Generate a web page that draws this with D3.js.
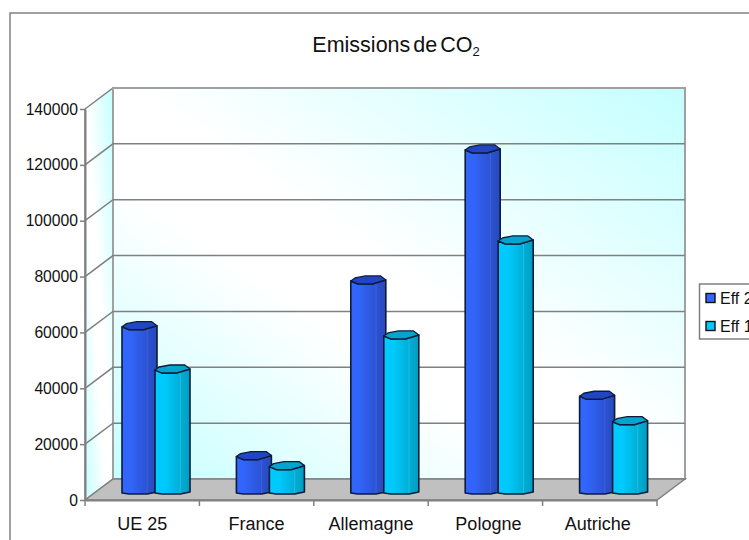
<!DOCTYPE html>
<html>
<head>
<meta charset="utf-8">
<script src="https://d3js.org/d3.v7.min.js"></script>
<style>
  html, body { margin: 0; padding: 0; background: #fff; overflow: hidden; }
  svg { display: block; }
  text { font-family: "Liberation Sans", Arial, sans-serif; fill: #111; }
  .domain { stroke: #808080; stroke-width: 2px; }
  .tick line { stroke: #808080; stroke-width: 1.5px; }
</style>
</head>
<body>
<div id="chart"></div>
<script>
// values
const categories = ['UE 25', 'France', 'Allemagne', 'Pologne', 'Autriche'];
const seriesNames = ['Eff 2', 'Eff 1'];
const eff2 = [59900, 13400, 76300, 123200, 35000];
const eff1 = [44400, 9800, 56600, 90600, 25900];
const yTicks = [0, 20000, 40000, 60000, 80000, 100000, 120000, 140000];

const FRAME_WIDTH = 749;
const FRAME_HEIGHT = 540;
const DEPTH_X = 28;
const DEPTH_Y = 21;
const BAR_W = 35;

const svg = d3.select('#chart').append('svg')
  .attr('width', FRAME_WIDTH)
  .attr('height', FRAME_HEIGHT);

const colors = {
  'Eff 2': {front: 'blue2', top: '#2146c4', divider: '#3f62d8', key: '#3366ff'},
  'Eff 1': {front: 'cyan1', top: '#00a5cf', divider: '#26bcdc', key: '#00ccff'}
};

// gradients
const defs = svg.append('defs');
const wall = defs.append('linearGradient').attr('id', 'wall')
  .attr('x1', 1).attr('y1', 0).attr('x2', 0).attr('y2', 1);
wall.append('stop').attr('offset', '0%').attr('stop-color', '#c4ffff');
wall.append('stop').attr('offset', '48%').attr('stop-color', '#ffffff');
wall.append('stop').attr('offset', '62%').attr('stop-color', '#ffffff');
wall.append('stop').attr('offset', '100%').attr('stop-color', '#c4ffff');

const blue = defs.append('linearGradient').attr('id', 'blue2');
blue.append('stop').attr('offset', '0%').attr('stop-color', '#3366ff');
blue.append('stop').attr('offset', '25%').attr('stop-color', '#3164f8');
blue.append('stop').attr('offset', '100%').attr('stop-color', '#2848bc');
const cyan = defs.append('linearGradient').attr('id', 'cyan1');
cyan.append('stop').attr('offset', '0%').attr('stop-color', '#00ccff');
cyan.append('stop').attr('offset', '30%').attr('stop-color', '#00c8fa');
cyan.append('stop').attr('offset', '100%').attr('stop-color', '#009dc0');

// outer chart border, runs off the page on the right and bottom
svg.append('rect')
  .attr('x', 10).attr('y', 13)
  .attr('width', 800).attr('height', 600)
  .attr('fill', '#fff')
  .attr('stroke', '#808080')
  .attr('stroke-width', 1.5);

const yscale = d3.scaleLinear().domain([0, 140000]).range([500, 109]);
const xscale = d3.scaleBand().domain(categories).range([85, 657]);
const seriesScale = d3.scaleBand().domain(seriesNames).range([0, 68]).paddingInner(0);

const x0 = xscale.range()[0];
const x1 = xscale.range()[1];
const yBase = yscale(0);
const yTop = yscale(140000);

const poly = d3.line();

// side wall
svg.append('path')
  .attr('d', poly([[x0, yBase], [x0, yTop], [x0 + DEPTH_X, yTop - DEPTH_Y], [x0 + DEPTH_X, yBase - DEPTH_Y]]) + 'Z')
  .attr('fill', 'url(#wall)')
  .attr('stroke', '#808080').attr('stroke-width', 1.5);

// back wall
svg.append('rect')
  .attr('x', x0 + DEPTH_X).attr('y', yTop - DEPTH_Y)
  .attr('width', x1 - x0).attr('height', yBase - yTop)
  .attr('fill', 'url(#wall)')
  .attr('stroke', '#a0a0a0').attr('stroke-width', 2);

// floor
svg.append('path')
  .attr('d', poly([[x0, yBase], [x0 + DEPTH_X, yBase - DEPTH_Y], [x1 + DEPTH_X, yBase - DEPTH_Y], [x1, yBase]]) + 'Z')
  .attr('fill', '#c0c0c0')
  .attr('stroke', '#808080').attr('stroke-width', 1.5);

// gridlines on both walls
const gridTicks = yTicks.filter((d) => d > 0 && d < 140000);
svg.selectAll('.grid')
  .data(gridTicks)
  .enter().append('path')
  .attr('class', 'grid')
  .attr('fill', 'none')
  .attr('stroke', '#808080')
  .attr('stroke-width', 1.5)
  .attr('d', (d) => poly([[x0, yscale(d)], [x0 + DEPTH_X, yscale(d) - DEPTH_Y], [x1 + DEPTH_X, yscale(d) - DEPTH_Y]]));

// axes
svg.append('g')
  .attr('transform', 'translate(' + x0 + ',0)')
  .call(d3.axisLeft(yscale).tickValues(yTicks).tickFormat(d3.format('d')).tickSize(5).tickSizeOuter(0))
  .call((g) => g.selectAll('text').attr('font-size', '15.7px').attr('x', -7).attr('font-family', 'Liberation Sans'));

svg.append('g')
  .attr('transform', 'translate(0,' + yBase + ')')
  .call(d3.axisBottom(xscale).tickSize(0).tickSizeOuter(0))
  .call((g) => g.selectAll('text').attr('font-size', '18px').attr('y', 17).attr('font-family', 'Liberation Sans'));

// last two labels sit a little off centre in the original
svg.selectAll('.tick text')
  .filter((d) => d === 'Pologne').attr('dx', 3);
svg.selectAll('.tick text')
  .filter((d) => d === 'Autriche').attr('dx', -2);

// category separators on the x axis
svg.append('g').selectAll('line')
  .data(categories.concat(['end']))
  .enter().append('line')
  .attr('x1', (d) => d === 'end' ? x1 : xscale(d))
  .attr('x2', (d) => d === 'end' ? x1 : xscale(d))
  .attr('y1', yBase)
  .attr('y2', yBase + 6)
  .attr('stroke', '#808080')
  .attr('stroke-width', 1.5);

// bars, drawn left to right so the lighter series overlaps the darker one
const BAR_OFFSET = 37;
const BASE_LIFT = 6;

function drawBar(x, value, name) {
  const c = colors[name];
  const w = BAR_W;
  const yb = yscale(0) - BASE_LIFT;
  const yt = yscale(value) - BASE_LIFT;
  const g = svg.append('g');

  // front and side as one faceted body
  g.append('path')
    .attr('d', poly([
      [x, yt], [x + 0.2 * w, yt + 3], [x + 0.62 * w, yt + 3], [x + w, yt - 1],
      [x + w, yb - 2], [x + 0.72 * w, yb], [x + 0.2 * w, yb], [x, yb - 1]
    ]) + 'Z')
    .attr('fill', 'url(#' + c.front + ')')
    .attr('stroke', '#0c1c38')
    .attr('stroke-width', 1.6)
    .attr('stroke-linejoin', 'round');

  // faint facet line on the body
  g.append('line')
    .attr('x1', x + 0.72 * w).attr('x2', x + 0.72 * w)
    .attr('y1', yt + 3).attr('y2', yb - 1)
    .attr('stroke', c.divider)
    .attr('stroke-width', 1);

  // top cap
  g.append('path')
    .attr('d', poly([
      [x, yt], [x + 0.12 * w, yt - 3], [x + 0.42 * w, yt - 5], [x + 0.85 * w, yt - 5],
      [x + w, yt - 1], [x + 0.62 * w, yt + 3], [x + 0.2 * w, yt + 3]
    ]) + 'Z')
    .attr('fill', c.top)
    .attr('stroke', '#0c1c38')
    .attr('stroke-width', 1.3)
    .attr('stroke-linejoin', 'round');
}

categories.forEach((cat, i) => {
  drawBar(xscale(cat) + BAR_OFFSET + seriesScale('Eff 2'), eff2[i], 'Eff 2');
  drawBar(xscale(cat) + BAR_OFFSET + seriesScale('Eff 1') - 1, eff1[i], 'Eff 1');
});

// title
const title = svg.append('text')
  .attr('x', 396)
  .attr('y', 52)
  .attr('text-anchor', 'middle')
  .attr('font-size', '21.5px')
  .attr('font-family', 'Liberation Sans');
title.append('tspan').attr('word-spacing', '-3px').text('Emissions de ');
title.append('tspan').text('CO');
title.append('tspan').attr('font-size', '13px').attr('dy', 4).text('2');

// legend, clipped by the page edge
const legend = svg.append('g');
legend.append('rect')
  .attr('x', 699.5).attr('y', 284)
  .attr('width', 80).attr('height', 55)
  .attr('fill', '#fff')
  .attr('stroke', '#808080')
  .attr('stroke-width', 1.5);

const legendY = d3.scaleBand().domain(seriesNames).range([284, 340]);
legend.selectAll('rect.key')
  .data(seriesNames)
  .enter().append('rect')
  .attr('class', 'key')
  .attr('x', 706)
  .attr('y', (d) => legendY(d) + legendY.bandwidth() / 2 - 4.5)
  .attr('width', 9)
  .attr('height', 9)
  .attr('fill', (d) => colors[d].key)
  .attr('stroke', '#111')
  .attr('stroke-width', 1.4);
legend.selectAll('text')
  .data(seriesNames)
  .enter().append('text')
  .attr('x', 720)
  .attr('y', (d) => legendY(d) + legendY.bandwidth() / 2 + 5.5)
  .attr('font-size', '16px')
  .text((d) => d);
</script>
</body>
</html>
